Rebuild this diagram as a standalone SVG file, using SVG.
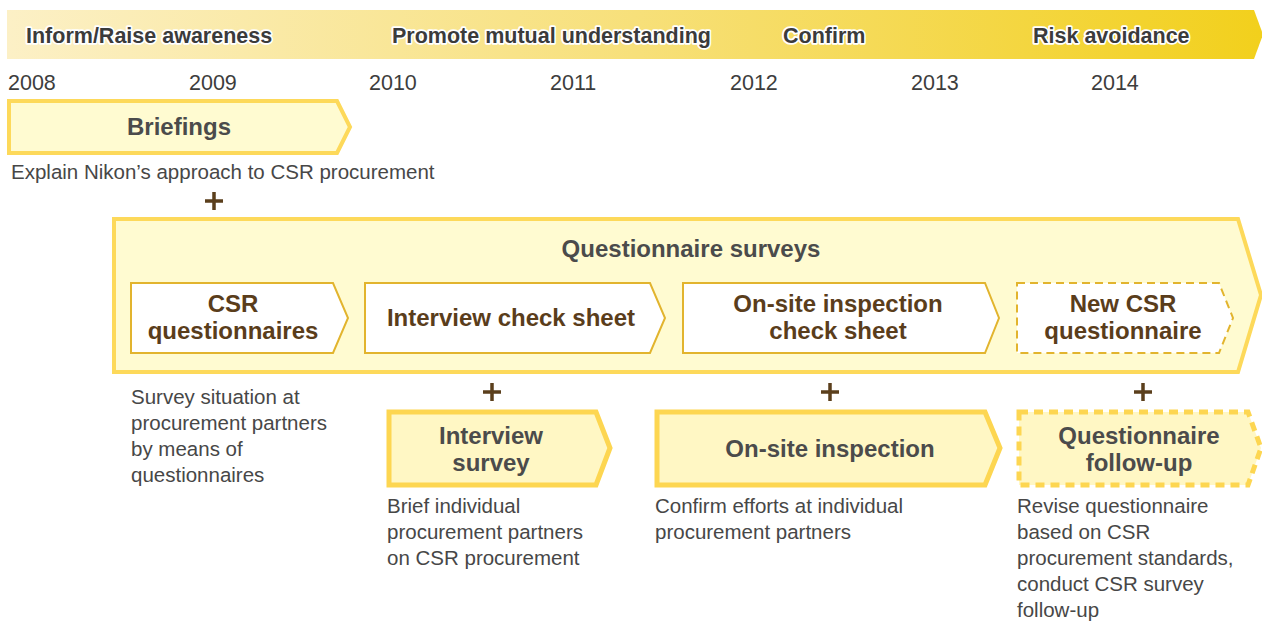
<svg xmlns="http://www.w3.org/2000/svg" width="1262" height="621" viewBox="0 0 1262 621">
<defs>
<linearGradient id="band" x1="0" y1="0" x2="1" y2="0">
<stop offset="0" stop-color="#fcf0c6"/>
<stop offset="0.5" stop-color="#f7e07a"/>
<stop offset="1" stop-color="#f2d01c"/>
</linearGradient>
</defs>
<style>
text{font-family:"Liberation Sans",Arial,sans-serif}
.band{font-size:21.5px;font-weight:bold;fill:#3b3b3b;stroke:#fff;stroke-width:3.5px;paint-order:stroke;stroke-linejoin:round}
.yr{font-size:21.5px;fill:#3d3d3d}
.ttl{font-size:24px;font-weight:bold;fill:#4b4b4b;text-anchor:middle}
.in{font-size:24px;font-weight:bold;fill:#5a3d1b;text-anchor:middle}
.desc{font-size:20.5px;fill:#474747}
.yel{fill:#fffbd1;stroke:#fdd95a;stroke-width:4}
.low{fill:#fff7c4;stroke:#fdd651;stroke-width:5}
.wht{fill:#fff;stroke:#e2b42e;stroke-width:2}
.dash{stroke-dasharray:8 5}
.plus{stroke:#5b3f1c;stroke-width:3.5;fill:none}
</style>
<g id="timeline">
<polygon points="7,10 1254,10 1263,34.5 1254,59 7,59" fill="url(#band)"/>
<text class="band" x="26" y="43">Inform/Raise awareness</text>
<text class="band" x="392" y="43">Promote mutual understanding</text>
<text class="band" x="783" y="43">Confirm</text>
<text class="band" x="1033" y="43">Risk avoidance</text>
<text class="yr" x="8" y="90">2008</text>
<text class="yr" x="189" y="90">2009</text>
<text class="yr" x="369" y="90">2010</text>
<text class="yr" x="550" y="90">2011</text>
<text class="yr" x="730" y="90">2012</text>
<text class="yr" x="911" y="90">2013</text>
<text class="yr" x="1091" y="90">2014</text>
</g>
<g id="briefings">
<polygon class="yel" points="9,101 337,101 350,127 337,153 9,153"/>
<text class="ttl" x="179" y="135">Briefings</text>
<text class="desc" x="11" y="179">Explain Nikon’s approach to CSR procurement</text>
</g>
<g id="questionnaire-surveys">
<polygon class="yel" points="114,219 1238,219 1261,295 1238,372 114,372"/>
<text class="ttl" x="691" y="257">Questionnaire surveys</text>
</g>
<g id="csr-questionnaires">
<polygon class="wht" points="131,283 333,283 348,318 333,353 131,353"/>
<text class="in" x="233" y="312">CSR</text>
<text class="in" x="233" y="339">questionnaires</text>
<text class="desc"><tspan x="131" y="404">Survey situation at</tspan><tspan x="131" y="430">procurement partners</tspan><tspan x="131" y="456">by means of</tspan><tspan x="131" y="482">questionnaires</tspan></text>
</g>
<g id="interview-check-sheet">
<polygon class="wht" points="365,283 650,283 665,318 650,353 365,353"/>
<text class="in" x="511" y="326">Interview check sheet</text>
</g>
<g id="onsite-check-sheet">
<polygon class="wht" points="683,283 985,283 999,318 985,353 683,353"/>
<text class="in" x="838" y="312">On-site inspection</text>
<text class="in" x="838" y="339">check sheet</text>
</g>
<g id="new-csr-questionnaire">
<polygon class="wht dash" points="1017,283 1219,283 1233,318 1219,353 1017,353"/>
<text class="in" x="1123" y="312">New CSR</text>
<text class="in" x="1123" y="339">questionnaire</text>
</g>
<g id="interview-survey">
<polygon class="low" points="389,412 596,412 610,448 596,485 389,485"/>
<text class="ttl" x="491" y="444">Interview</text>
<text class="ttl" x="491" y="471">survey</text>
<text class="desc"><tspan x="387" y="513">Brief individual</tspan><tspan x="387" y="539">procurement partners</tspan><tspan x="387" y="565">on CSR procurement</tspan></text>
</g>
<g id="onsite-inspection">
<polygon class="low" points="657,412 985,412 1000,448 985,485 657,485"/>
<text class="ttl" x="830" y="457">On-site inspection</text>
<text class="desc"><tspan x="655" y="513">Confirm efforts at individual</tspan><tspan x="655" y="539">procurement partners</tspan></text>
</g>
<g id="questionnaire-follow-up">
<polygon class="low dash" style="stroke-dasharray:9 6" points="1019,412 1248,412 1261,448 1248,485 1019,485"/>
<text class="ttl" x="1139" y="444">Questionnaire</text>
<text class="ttl" x="1139" y="471">follow-up</text>
<text class="desc"><tspan x="1017" y="513">Revise questionnaire</tspan><tspan x="1017" y="539">based on CSR</tspan><tspan x="1017" y="565">procurement standards,</tspan><tspan x="1017" y="591">conduct CSR survey</tspan><tspan x="1017" y="617">follow-up</tspan></text>
</g>
<g id="connectors">
<path class="plus" d="M205,201 H223 M214,192 V210"/>
<path class="plus" d="M483,392 H501 M492,383 V401"/>
<path class="plus" d="M821,392 H839 M830,383 V401"/>
<path class="plus" d="M1134,392 H1152 M1143,383 V401"/>
</g>
</svg>
